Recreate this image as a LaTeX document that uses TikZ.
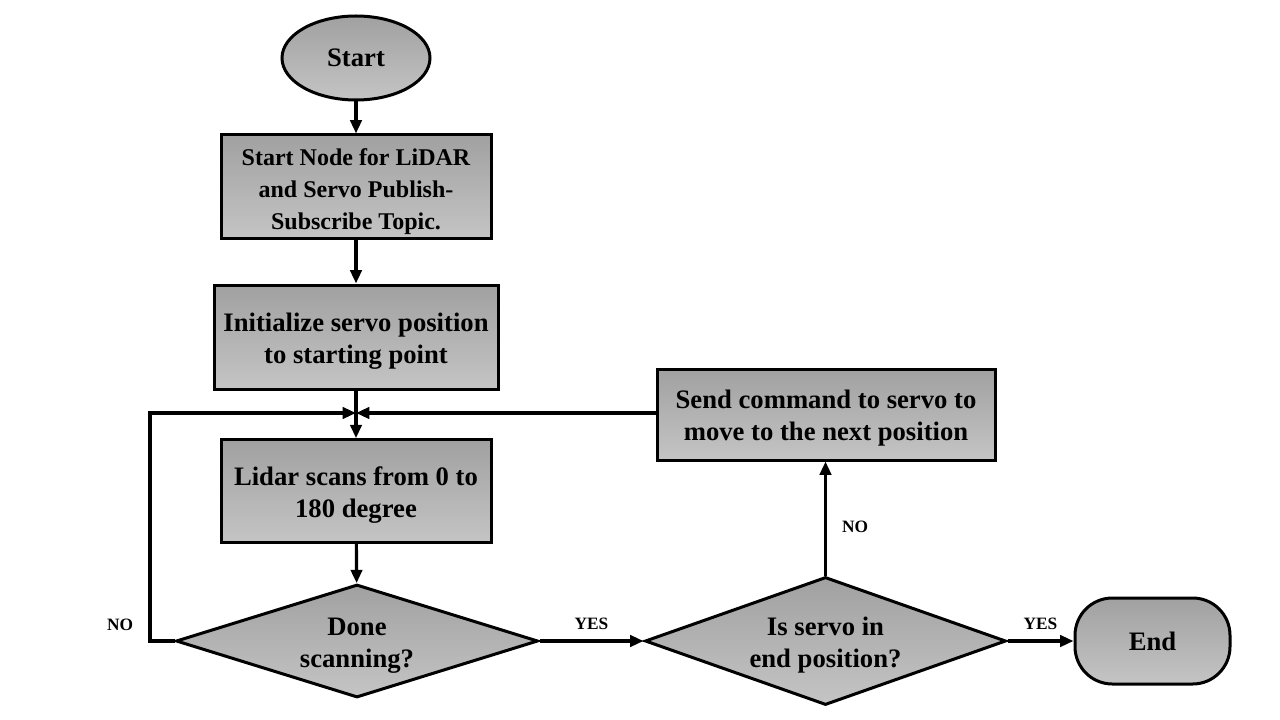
\documentclass[tikz,border=0pt]{standalone}
\usepackage{fontspec}
\setmainfont{Liberation Serif}
\usetikzlibrary{shapes.geometric,arrows.meta}
\newcommand\tstrut{\rule{0pt}{20pt}}
\tikzset{
  shaded/.style={draw=black, line width=2.25pt, top color=black!37, bottom color=black!23, font=\bfseries\fontsize{20}{24}\selectfont, align=center, inner sep=0pt},
  procbox/.style={shaded, rectangle},
  termoval/.style={shaded, ellipse, font=\bfseries\fontsize{20}{24}\selectfont},
  termbox/.style={shaded, rectangle, rounded corners=28pt, font=\bfseries\fontsize{20}{24}\selectfont},
  decision/.style={shaded, diamond},
  dtext/.style={font=\bfseries\fontsize{20}{24}\selectfont, align=center, inner sep=0pt},
  conn/.style={line width=2.4pt, -{Triangle[length=10pt,width=8.5pt]}},
  lbl/.style={font=\bfseries\fontsize{13}{15}\selectfont}
}
\begin{document}
\begin{tikzpicture}[x=0.75pt,y=-0.75pt]
\useasboundingbox[fill=white] (0,0) rectangle (1280,720);
\node[termoval, minimum width=111pt, minimum height=63pt] (start) at (356,58) {Start};
\node[procbox, minimum width=202.5pt, minimum height=78pt, font=\bfseries\fontsize{18}{24}\selectfont] (b1) at (356,187) {\tstrut Start Node for LiDAR\\and Servo Publish-\\Subscribe Topic.};
\node[procbox, minimum width=213pt, minimum height=78pt] (b2) at (356,337) {\tstrut Initialize servo position\\to starting point};
\node[procbox, minimum width=202.5pt, minimum height=77pt] (b3) at (356,491) {\tstrut Lidar scans from 0 to\\180 degree};
\node[decision, minimum width=271.5pt, minimum height=84.75pt] (d1) at (357,641) {};
\node[dtext] (d1t) at (d1.center) {\tstrut Done\\scanning?};
\node[decision, minimum width=270.75pt, minimum height=96pt] (d2) at (825.5,641) {};
\node[dtext] (d2t) at (d2.center) {\tstrut Is servo in\\end position?};
\node[termbox, minimum width=116.25pt, minimum height=64.5pt] (end) at (1152.5,641) {End};
\node[procbox, minimum width=253.5pt, minimum height=68.25pt] (send) at (826,414.5) {\tstrut Send command to servo to\\move to the next position};
\coordinate (j) at (356,413);
\coordinate (lc1) at (150,641);
\coordinate (lc2) at (150,413);

\draw[conn] (start) -- (b1);
\draw[conn] (b1) -- (b2);
\draw[conn] (b2) -- (b3);
\draw[conn] (b3) -- (d1);
\draw[conn] (d1.west) -- (lc1) -- (lc2) -- (j);
\draw[conn] (send.west |- j) -- (j);
\draw[conn] (d1.east) -- (d2.west) node[lbl, midway, above=4pt] {YES};
\draw[conn] (d2.north) -- (d2.north |- send.south);
\draw[conn] (d2.east) -- (end.west) node[lbl, midway, above=4pt] {YES};
\node[lbl] (nolbl) at (120,625) {NO};
\node[lbl] (nolbl2) at (855,527) {NO};
\end{tikzpicture}
\end{document}
